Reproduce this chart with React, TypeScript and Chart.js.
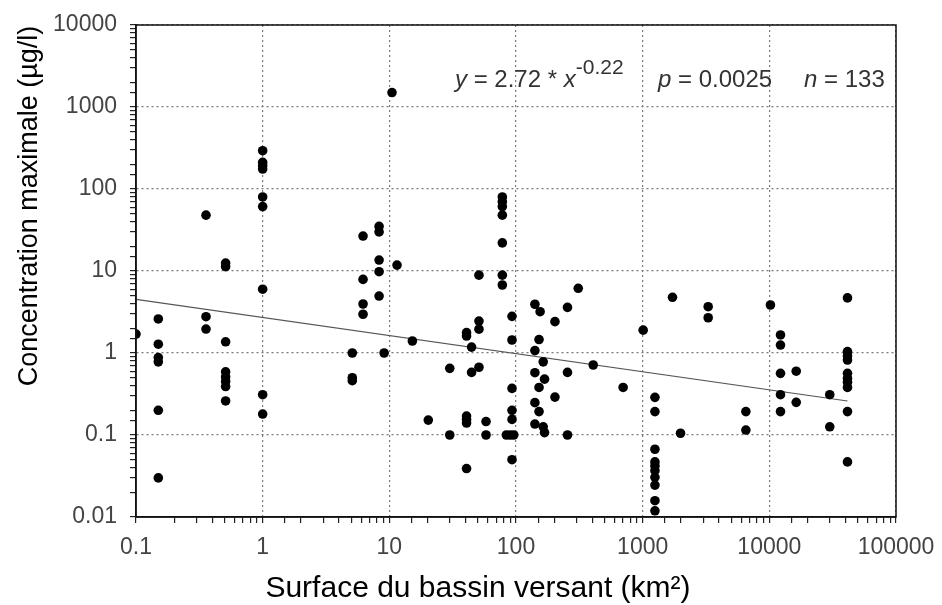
import React, { useEffect, useRef } from "react";
import { Chart, registerables } from "chart.js";

Chart.register(...registerables);

// Surface du bassin versant (km²) for each observation
const surfaceKm2 = [
  0.1,
  0.15, 0.15, 0.15, 0.15, 0.15, 0.15,
  0.357, 0.357, 0.357,
  0.51, 0.51, 0.51, 0.51, 0.51, 0.51, 0.51, 0.51,
  1.0, 1.0, 1.0, 1.0, 1.0, 1.0, 1.0, 1.0, 1.0,
  5.1, 5.1, 5.1,
  6.2, 6.2, 6.2, 6.2,
  8.3, 8.3, 8.3, 8.3, 8.3,
  9.1, 10.5, 11.5, 15.2, 20.3,
  30, 30,
  40.7, 40.7, 40.7, 40.7, 40.7, 40.7,
  44.6, 44.6,
  51, 51, 51, 51,
  58, 58,
  78, 78, 78, 78, 78, 78, 78,
  84, 90, 96,
  93, 93, 93, 93, 93, 93,
  141, 141, 141, 141, 141,
  155, 152, 152, 152,
  164, 164,
  168, 168,
  203, 203,
  255, 255, 255,
  310, 407, 701, 1009,
  1250, 1250, 1250, 1250, 1250, 1250, 1250, 1250, 1250, 1250,
  1720, 1990,
  3290, 3290,
  6530, 6530,
  10200,
  12250, 12250, 12250, 12250, 12250,
  16300, 16300,
  30000, 30000,
  41400, 41400, 41400, 41400, 41400, 41400, 41400, 41400, 41400, 41400,
];

// Concentration maximale (µg/l) for each observation
const concentration = [
  1.7,
  2.6, 1.28, 0.88, 0.78, 0.2, 0.03,
  48, 2.77, 1.96,
  12.5, 11.3, 1.37, 0.59, 0.51, 0.45, 0.39, 0.26,
  293, 211, 192, 175, 80, 61, 6.0, 0.31, 0.18,
  1.0, 0.5, 0.46,
  26.7, 7.9, 3.96, 2.97,
  35, 30, 13.6, 9.8, 4.95,
  1.0, 1500, 11.8, 1.4, 0.152,
  0.65, 0.1,
  1.77, 1.61, 0.17, 0.155, 0.14, 0.039,
  1.18, 0.58,
  8.9, 2.45, 1.95, 0.67,
  0.146, 0.1,
  80, 70, 61, 48, 22, 8.9, 6.75,
  0.1, 0.1, 0.1,
  2.8, 1.44, 0.37, 0.2, 0.155, 0.05,
  3.93, 1.07, 0.575, 0.248, 0.136,
  3.19, 1.46, 0.38, 0.193,
  0.78, 0.126,
  0.48, 0.107,
  2.41, 0.29,
  3.6, 0.58, 0.1,
  6.15, 0.714, 0.38, 1.9,
  0.288, 0.193, 0.067, 0.047, 0.042, 0.0367, 0.0305, 0.0245, 0.0158, 0.0119,
  4.78, 0.105,
  3.67, 2.69,
  0.193, 0.115,
  3.85,
  1.66, 1.25, 0.565, 0.31, 0.193,
  0.6, 0.25,
  0.31, 0.126,
  4.7, 1.04, 0.92, 0.82, 0.565, 0.49, 0.44, 0.38, 0.193, 0.047,
];

// Fitted power-law line end points (y = 2.72 * x^-0.22)
const trendX = [0.1, 41400];
const trendY = [4.51, 0.26];

const xTickLabels = ["0.1", "1", "10", "100", "1000", "10000", "100000"];
const yTickLabels = ["0.01", "0.1", "1", "10", "100", "1000", "10000"];

const xTitle = "Surface du bassin versant (km²)";
const yTitle = "Concentration maximale (µg/l)";
const eqCoef = "2.72";
const eqExp = "-0.22";
const pValue = "0.0025";
const nValue = "133";

const FONT = '"Liberation Sans", Arial, sans-serif';

function label(v: number): string {
  return String(+Number(v).toPrecision(6));
}

const framePlugin = {
  id: "frameAndText",
  afterDraw(chart: any) {
    const ctx = chart.ctx as CanvasRenderingContext2D;
    const a = chart.chartArea;
    ctx.save();
    // frame
    ctx.strokeStyle = "#111";
    ctx.lineWidth = 1.5;
    ctx.strokeRect(a.left, a.top, a.right - a.left, a.bottom - a.top);

    // axis titles
    ctx.fillStyle = "#000";
    ctx.font = `30px ${FONT}`;
    ctx.textAlign = "center";
    ctx.textBaseline = "alphabetic";
    ctx.fillText(xTitle, 478, 597);

    ctx.save();
    ctx.translate(37, 206);
    ctx.rotate(-Math.PI / 2);
    ctx.font = `27px ${FONT}`;
    ctx.textAlign = "center";
    ctx.textBaseline = "alphabetic";
    ctx.fillText(yTitle, 0, 0);
    ctx.restore();

    // equation annotation
    ctx.fillStyle = "#333";
    ctx.textAlign = "left";
    ctx.textBaseline = "alphabetic";
    const base = 87;
    let x = 455;
    const seg = (t: string, font: string, dy = 0) => {
      ctx.font = font;
      ctx.fillText(t, x, base + dy);
      x += ctx.measureText(t).width;
    };
    const reg = `24px ${FONT}`;
    const ita = `italic 24px ${FONT}`;
    seg("y", ita);
    seg(" = " + eqCoef + " * ", reg);
    seg("x", ita);
    seg(eqExp, `21px ${FONT}`, -13);
    x = 658;
    seg("p", ita);
    seg(" = " + pValue, reg);
    x = 804;
    seg("n", ita);
    seg(" = " + nValue, reg);
    ctx.restore();
  },
};

export default function App() {
  const ref = useRef<HTMLCanvasElement | null>(null);

  useEffect(() => {
    const canvas = ref.current;
    if (!canvas) return;
    const points = surfaceKm2.map((x, i) => ({ x, y: concentration[i] }));
    const trend = trendX.map((x, i) => ({ x, y: trendY[i] }));

    const gridColor = (labels: string[]) => (c: any) =>
      c.tick && labels.includes(label(c.tick.value)) ? "#7a7a7a" : "rgba(0,0,0,0)";

    const chart = new Chart(canvas, {
      type: "scatter",
      data: {
        datasets: [
          {
            label: "Observations",
            data: points,
            backgroundColor: "#000",
            borderColor: "#000",
            borderWidth: 0,
            pointRadius: 4.8,
            pointHoverRadius: 4.8,
          },
          {
            label: "Tendance",
            data: trend,
            showLine: true,
            borderColor: "#555",
            borderWidth: 1.2,
            pointRadius: 0,
            fill: false,
          } as any,
        ],
      },
      options: {
        responsive: false,
        animation: false,
        layout: { padding: { left: 0, right: 46, top: 25, bottom: 0 } },
        plugins: {
          legend: { display: false },
          tooltip: { enabled: false },
        },
        scales: {
          x: {
            type: "logarithmic",
            min: 0.1,
            max: 100000,
            afterFit: (s: any) => {
              s.height = 88;
              s.paddingLeft = 0;
              s.paddingRight = 0;
            },
            border: { display: true, color: "#111", width: 1.5, dash: [2, 3] },
            grid: {
              color: gridColor(xTickLabels),
              lineWidth: 1.2,
              tickColor: "#222",
              tickLength: 6,
              drawTicks: true,
            },
            ticks: {
              autoSkip: false,
              maxRotation: 0,
              padding: 11,
              color: "#444",
              font: { family: FONT, size: 23 },
              callback: (v: any) => {
                const s = label(Number(v));
                return xTickLabels.includes(s) ? s : "";
              },
            },
          },
          y: {
            type: "logarithmic",
            min: 0.01,
            max: 10000,
            afterFit: (s: any) => {
              s.width = 136;
              s.paddingTop = 0;
              s.paddingBottom = 0;
            },
            border: { display: true, color: "#111", width: 1.5, dash: [2, 3] },
            grid: {
              color: gridColor(yTickLabels),
              lineWidth: 1.2,
              tickColor: "#222",
              tickLength: 6,
              drawTicks: true,
            },
            ticks: {
              autoSkip: false,
              padding: 13,
              color: "#444",
              font: { family: FONT, size: 23 },
              callback: (v: any) => {
                const s = label(Number(v));
                return yTickLabels.includes(s) ? s : "";
              },
            },
          },
        },
      },
      plugins: [framePlugin],
    } as any);

    return () => chart.destroy();
  }, []);

  return (
    <div
      style={{
        position: "fixed",
        left: 0,
        top: 0,
        width: 942,
        height: 605,
        background: "#fff",
      }}
    >
      <canvas ref={ref} width={942} height={605} style={{ display: "block" }} />
    </div>
  );
}
